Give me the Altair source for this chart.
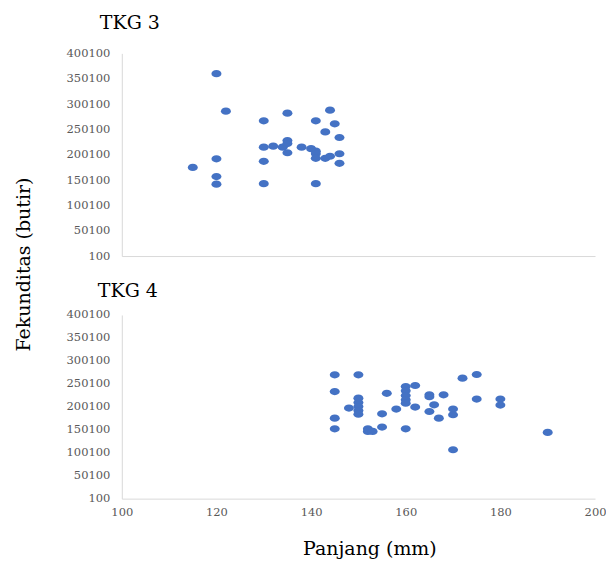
import altair as alt
import pandas as pd

# TKG 3 data
tkg3_panjang = [120, 122, 115, 120, 120, 120, 130, 130, 130, 130, 132, 135, 135, 134, 135, 135,
                138, 141, 140, 141, 141, 141, 141, 144, 145, 143, 146, 143, 144, 146, 146]
tkg3_fekunditas = [360000, 286000, 175000, 192000, 157000, 142000, 267000, 215000, 187000, 143000,
                   217000, 282000, 228000, 215000, 204000, 222000, 215000, 267000, 212000, 207000,
                   202000, 193000, 143000, 288000, 261000, 245000, 234000, 193000, 197000, 202000, 183000]

# TKG 4 data
tkg4_panjang = [145, 150, 145, 145, 145, 148, 150, 150, 150, 150, 150, 152, 152, 153,
                155, 155, 156, 158, 160, 160, 160, 160, 160, 160, 162, 162,
                165, 165, 168, 166, 165, 167, 172, 175, 175, 180, 180, 170, 170, 170, 190]
tkg4_fekunditas = [269600, 269600, 233300, 175400, 152200, 197200, 218900, 209400, 200700, 192000,
                   184100, 152200, 146400, 146400, 184800, 155900, 229500, 195100, 244200, 234900,
                   224700, 215300, 208000, 152200, 246400, 199400, 226200, 222000, 226200, 204300,
                   189900, 175400, 262500, 270400, 216800, 216800, 203800, 195100, 182700, 106600, 144200]

y_ticks = [100, 50100, 100100, 150100, 200100, 250100, 300100, 350100, 400100]
x_ticks = [100, 120, 140, 160, 180, 200]

FONT = "DejaVu Serif"
BLUE = "#4472C4"
AXIS_GRAY = "#d9d9d9"
LABEL_GRAY = "#595959"
ELLIPSE = "M -1 0 A 1 0.72 0 1 0 1 0 A 1 0.72 0 1 0 -1 0 Z"

df3 = pd.DataFrame({"panjang": tkg3_panjang, "fekunditas": tkg3_fekunditas})
df4 = pd.DataFrame({"panjang": tkg4_panjang, "fekunditas": tkg4_fekunditas})

yscale = alt.Scale(domain=[100, 400100], nice=False, zero=False)
xscale = alt.Scale(domain=[100, 200], nice=False, zero=False)

common_axis = dict(grid=False, ticks=False, domainColor=AXIS_GRAY, domainWidth=1,
                   labelFont=FONT, labelFontSize=11.5, labelColor=LABEL_GRAY)

top = alt.Chart(df3).mark_point(shape=ELLIPSE, filled=True, size=100, color=BLUE, opacity=1).encode(
    x=alt.X("panjang:Q", scale=xscale,
            axis=alt.Axis(labels=False, title=None, values=x_ticks, **common_axis)),
    y=alt.Y("fekunditas:Q", scale=yscale,
            axis=alt.Axis(values=y_ticks, format="d", labelPadding=12,
                          title="Fekunditas (butir)", titleFont=FONT, titleFontSize=19,
                          titleFontWeight="normal", titleColor="#000000",
                          titleX=-88, titleY=211, **common_axis)),
).properties(
    width=474, height=203,
    title=alt.TitleParams("TKG 3", anchor="start", frame="group", dx=-22, offset=14,
                          font=FONT, fontSize=19, fontWeight="normal", color="#000000"),
)

bottom = alt.Chart(df4).mark_point(shape=ELLIPSE, filled=True, size=100, color=BLUE, opacity=1).encode(
    x=alt.X("panjang:Q", scale=xscale,
            axis=alt.Axis(values=x_ticks, labelPadding=8, labelFlush=False, title="Panjang (mm)",
                          titleFont=FONT, titleFontSize=19, titleFontWeight="normal",
                          titleColor="#000000", titlePadding=21, titleX=248, **common_axis)),
    y=alt.Y("fekunditas:Q", scale=yscale,
            axis=alt.Axis(values=y_ticks, format="d", labelPadding=12, title=None, **common_axis)),
).properties(
    width=474, height=184,
    title=alt.TitleParams("TKG 4", anchor="start", frame="group", dx=-24, offset=8,
                          font=FONT, fontSize=19, fontWeight="normal", color="#000000"),
)

chart = alt.vconcat(top, bottom, spacing=59, bounds="flush").properties(
    padding={"left": 15, "top": 14, "right": 0, "bottom": 0},
    background="white",
).configure_view(strokeWidth=0)

chart.save("out.html", embed_options={"renderer": "svg", "actions": False})
